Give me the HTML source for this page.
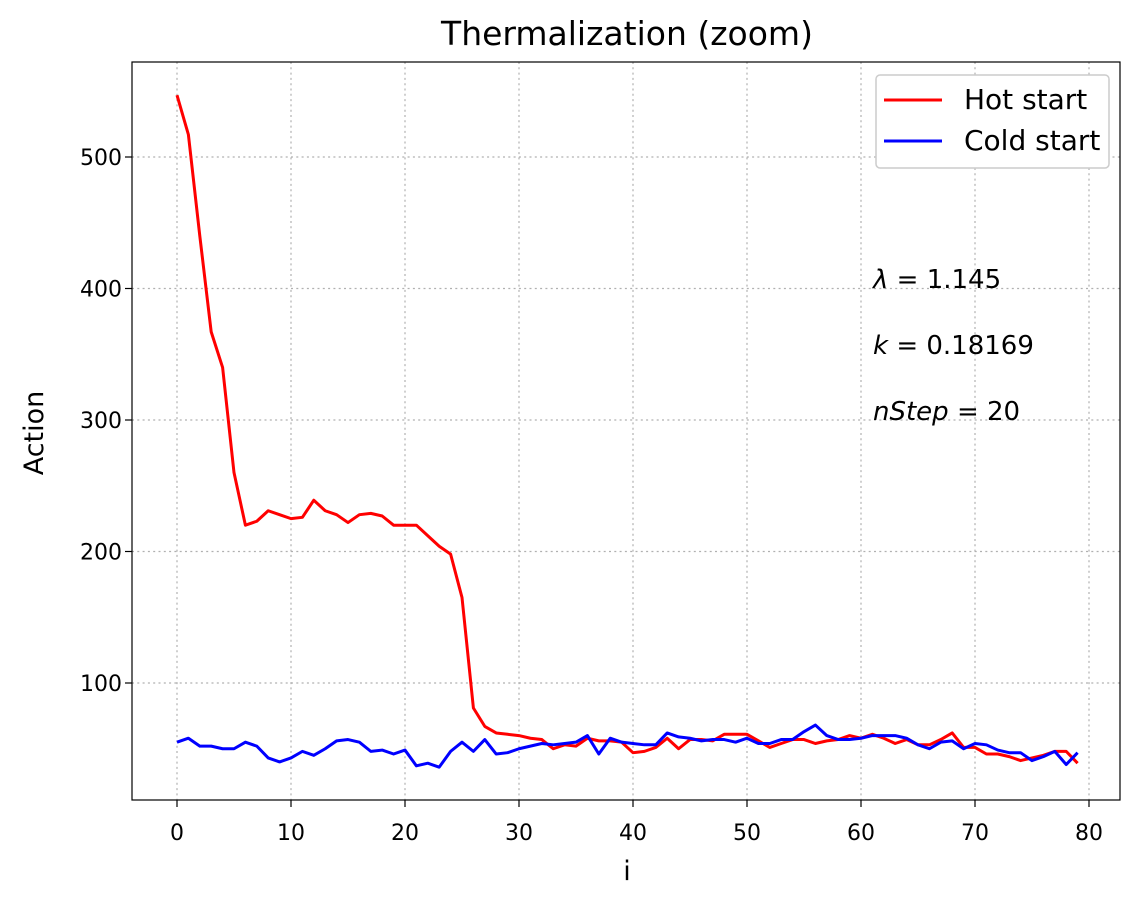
<!DOCTYPE html>
<html><head><meta charset="utf-8"><style>
body{margin:0;background:#fff;}
svg{display:block;font-family:"DejaVu Sans","Liberation Sans",sans-serif;}
</style></head><body>
<svg id="chart" width="1147" height="908" viewBox="0 0 1147 908" xmlns="http://www.w3.org/2000/svg">
<rect width="1147" height="908" fill="#fff"/>
<g id="grid"></g>
<g id="series"></g>
<g id="axes"></g>
<text x="627" y="45" font-size="33" text-anchor="middle">Thermalization (zoom)</text>
<text x="627" y="880" font-size="27" text-anchor="middle">i</text>
<text transform="translate(43,433) rotate(-90)" font-size="27" text-anchor="middle">Action</text>
<g font-size="26">
<text x="873" y="288"><tspan font-style="italic">λ</tspan> = 1.145</text>
<text x="873" y="354"><tspan font-style="italic">k</tspan> = 0.18169</text>
<text x="873" y="420"><tspan font-style="italic">nStep</tspan> = 20</text>
</g>
<g>
<rect x="876" y="75" width="233" height="93" rx="4" fill="#fff" stroke="#ccc" stroke-width="1.5"/>
<line x1="884" y1="100" x2="942" y2="100" stroke="#f00" stroke-width="3"/>
<text x="964" y="109" font-size="28">Hot start</text>
<line x1="884" y1="141" x2="942" y2="141" stroke="#00f" stroke-width="3"/>
<text x="964" y="150" font-size="28">Cold start</text>
</g>
</svg>
<script>
const hotStart=[547,517,440,367,340,260,220,223,231,228,225,226,239,231,228,222,228,229,227,220,220,220,212,204,198,165,81,67,62,61,60,58,57,50,53,52,58,56,56,55,47,48,51,58,50,57,57,56,61,61,61,56,51,54,57,57,54,56,57,60,58,61,58,54,57,53,53,57,62,51,51,46,46,44,41,43,45,48,48,39];
const coldStart=[55,58,52,52,50,50,55,52,43,40,43,48,45,50,56,57,55,48,49,46,49,37,39,36,48,55,48,57,46,47,50,52,54,53,54,55,60,46,58,55,54,53,53,62,59,58,56,57,57,55,58,54,54,57,57,63,68,60,57,57,58,60,60,60,58,53,50,55,56,50,54,53,49,47,47,41,44,48,38,47];
const xTicks=[0,10,20,30,40,50,60,70,80];
const yTicks=[100,200,300,400,500];
const L=132,R=1120,T=62,B=800;
const xs=v=>177+v*11.4;
const ys=v=>814.5-v*1.315;
const NS='http://www.w3.org/2000/svg';
function mk(tag,parent,attrs){const e=document.createElementNS(NS,tag);for(const k in attrs)e.setAttribute(k,attrs[k]);parent.appendChild(e);return e;}
const grid=document.getElementById('grid'),axes=document.getElementById('axes'),series=document.getElementById('series');
xTicks.forEach(t=>{
 const x=xs(t);
 const g=mk('line',grid,{x1:x,x2:x,y1:T,y2:B,stroke:'#b0b0b0','stroke-width':1.2,'stroke-dasharray':'2,3.3'});
 
 
 const tk=mk('line',axes,{x1:x,x2:x,y1:B,y2:B+7,stroke:'#000','stroke-width':1.2});
 
 
 const tx=mk('text',axes,{x:x,y:B+40,'font-size':22,'text-anchor':'middle'});
 tx.textContent=t;
 
 
});
yTicks.forEach(t=>{
 const y=ys(t);
 const g=mk('line',grid,{x1:L,x2:R,y1:y,y2:y,stroke:'#b0b0b0','stroke-width':1.2,'stroke-dasharray':'2,3.3'});
 
 
 const tk=mk('line',axes,{x1:L-7,x2:L,y1:y,y2:y,stroke:'#000','stroke-width':1.2});
 
 
 const tx=mk('text',axes,{x:L-10,y:y+8,'font-size':22,'text-anchor':'end'});
 tx.textContent=t;
 
 
});
const frame=mk('rect',axes,{x:L,y:T,width:R-L,height:B-T,fill:'none',stroke:'#000','stroke-width':1.2});


function line(data,color,name){
 const p=mk('polyline',series,{points:data.map((v,i)=>xs(i)+','+ys(v)).join(' '),fill:'none',stroke:color,'stroke-width':3,'stroke-linejoin':'round'});
 
 
}
line(hotStart,'#f00','hot-start-line');
line(coldStart,'#00f','cold-start-line');
</script>
</body></html>
